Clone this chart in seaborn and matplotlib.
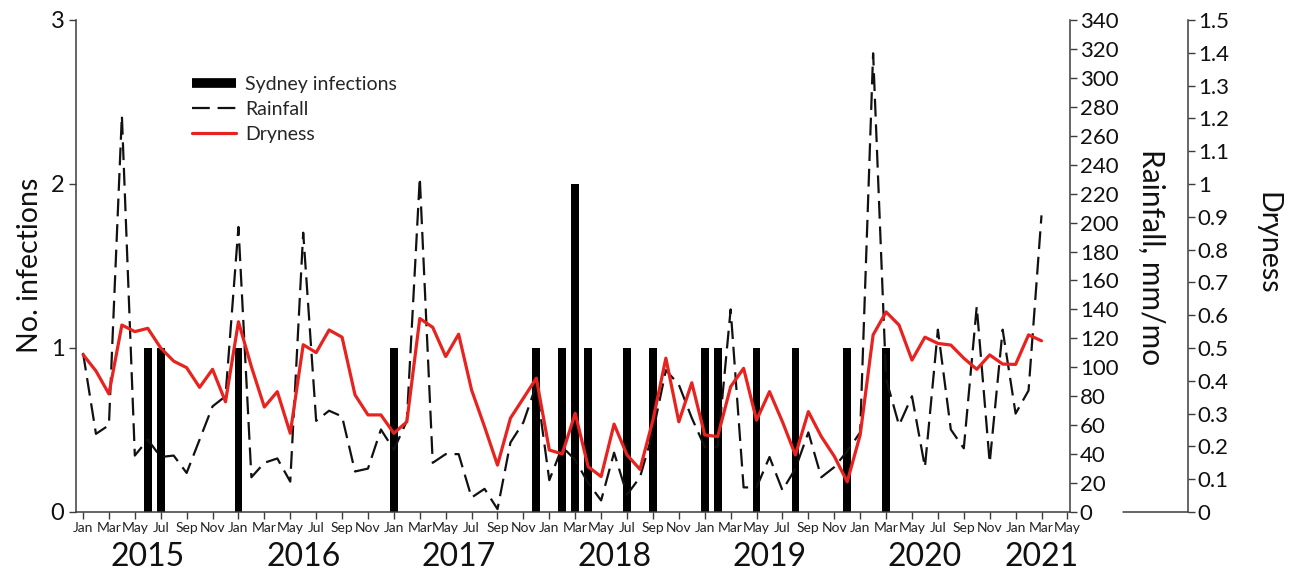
import numpy as np
import pandas as pd
import matplotlib
matplotlib.use("Agg")
import matplotlib.pyplot as plt
from matplotlib.lines import Line2D
from matplotlib.ticker import FuncFormatter, FixedLocator
import matplotlib.transforms as mtransforms
import seaborn as sns

# ---- data -------------------------------------------------------------
month_names = ["Jan", "Feb", "Mar", "Apr", "May", "Jun",
               "Jul", "Aug", "Sep", "Oct", "Nov", "Dec"]
years = ["2015", "2016", "2017", "2018", "2019", "2020", "2021"]

# monthly rainfall (mm/mo), Jan 2015 .. Mar 2021
rainfall = [110, 54, 60, 274, 39, 50, 38, 39, 27, 50, 73, 80,
            197, 24, 34, 37, 21, 193, 63, 70, 66, 28, 30, 57,
            43, 63, 231, 34, 40, 40, 10, 16, 2, 48, 62, 88,
            22, 45, 36, 20, 8, 41, 12, 24, 55, 98, 88, 65,
            45, 45, 140, 17, 17, 38, 15, 30, 55, 24, 31, 42,
            55, 317, 92, 60, 80, 31, 126, 57, 44, 142, 34, 126,
            68, 84, 205]

# monthly dryness index, Jan 2015 .. Mar 2021
dryness = [0.48, 0.43, 0.36, 0.57, 0.55, 0.56, 0.50, 0.46, 0.44, 0.38, 0.435, 0.336,
           0.58, 0.443, 0.32, 0.367, 0.24, 0.51, 0.486, 0.555, 0.533, 0.357, 0.296, 0.296,
           0.24, 0.275, 0.59, 0.563, 0.474, 0.542, 0.372, 0.26, 0.143, 0.286, 0.347, 0.408,
           0.189, 0.177, 0.301, 0.138, 0.108, 0.268, 0.174, 0.13, 0.28, 0.469, 0.275, 0.394,
           0.235, 0.23, 0.382, 0.438, 0.28, 0.367, 0.275, 0.174, 0.306, 0.23, 0.17, 0.092,
           0.235, 0.54, 0.61, 0.57, 0.463, 0.533, 0.514, 0.509, 0.469, 0.435, 0.479, 0.451,
           0.45, 0.54, 0.522]

# Sydney infections: month index (0 = Jan 2015) and number of cases
infection_month = [5, 6, 12, 24, 35, 37, 38, 39, 42, 44, 48, 49, 52, 55, 59, 62]
infection_count = [1, 1, 1, 1, 1, 1, 2, 1, 1, 1, 1, 1, 1, 1, 1, 1]

# axis runs Jan 2015 .. May 2021
n_axis_months = 77
year_label_month = [5, 17, 29, 41, 53, 65, 74]

df_clim = pd.DataFrame({"month": np.arange(len(rainfall)),
                        "rainfall": rainfall,
                        "dryness": dryness})
df_inf = pd.DataFrame({"month": infection_month, "count": infection_count})

# ---- style ------------------------------------------------------------
sns.set_theme(style="ticks")
plt.rcParams["font.family"] = ["Lato", "DejaVu Sans"]
axis_col = "#3c3c3c"
red = "#e8231f"
dash = (0, (8, 3.5))

W, H = 1293, 573
fig = plt.figure(figsize=(W / 100, H / 100), dpi=100)
x_left, x_right = 75.5, 1070
y_top, y_bot = 20, 512
ax = fig.add_axes([x_left / W, 1 - y_bot / H, (x_right - x_left) / W, (y_bot - y_top) / H])
ax2 = ax.twinx()
ax3 = ax.twinx()

# infections as bars
sns.barplot(data=df_inf, x="month", y="count", native_scale=True, width=0.6,
            color="black", saturation=1, linewidth=0, ax=ax)

# rainfall, dashed
sns.lineplot(data=df_clim, x="month", y="rainfall", ax=ax2, color="#111111",
             linewidth=1.6, linestyle=dash)

# dryness, red
sns.lineplot(data=df_clim, x="month", y="dryness", ax=ax3, color=red, linewidth=2.3)

# ---- axes -------------------------------------------------------------
xmin, xmax = -0.58, 76.2
for a in (ax, ax2, ax3):
    a.set_xlim(xmin, xmax)
    a.set_xlabel("")
    a.set_ylabel("")
    a.spines["top"].set_visible(False)
    a.grid(False)
    a.patch.set_visible(False)

ax.set_ylim(0, 3)
ax2.set_ylim(0, 340)
ax3.set_ylim(0, 1.5)

ax.spines["right"].set_visible(False)
for s in ("left", "bottom"):
    ax.spines[s].set_color(axis_col)
    ax.spines[s].set_linewidth(1.1)
for a in (ax2, ax3):
    a.spines["left"].set_visible(False)
    a.spines["bottom"].set_visible(False)
    a.spines["right"].set_color(axis_col)
    a.spines["right"].set_linewidth(1.1)

dry_spine_pos = (1188 - x_left) / (x_right - x_left)
ax3.spines["right"].set_position(("axes", dry_spine_pos))
# short base stub of the dryness axis
stub_start = (1123 - x_left) / (x_right - x_left)
ax3.plot([stub_start, dry_spine_pos], [0, 0], transform=ax3.transAxes,
         color=axis_col, lw=1.1, clip_on=False)

# x ticks every second month
tick_pos = np.arange(0, n_axis_months, 2)
ax.xaxis.set_major_locator(FixedLocator(tick_pos))
ax.set_xticklabels([month_names[p % 12] for p in tick_pos])
ax.tick_params(axis="x", direction="out", length=5, width=1, color=axis_col,
               labelsize=10, labelcolor="#222222", pad=2, bottom=True)

ax.set_yticks([0, 1, 2, 3])
ax.tick_params(axis="y", direction="out", length=5, width=1, color=axis_col,
               labelsize=17, labelcolor="#111111", pad=3, left=True)

ax2.set_yticks(np.arange(0, 341, 20))
ax2.tick_params(axis="y", direction="out", length=5, width=1, color=axis_col,
                labelsize=16, labelcolor="#111111", pad=2, right=True)

ax3.set_yticks(np.round(np.arange(0, 1.51, 0.1), 1))
ax3.yaxis.set_major_formatter(FuncFormatter(lambda v, p: f"{v:g}"))
ax3.tick_params(axis="y", direction="out", length=5, width=1, color=axis_col,
                labelsize=16, labelcolor="#111111", pad=2, right=True)

# year labels under the month ticks
trans = mtransforms.blended_transform_factory(ax.transData, ax.transAxes)
for yr, m in zip(years, year_label_month):
    ax.text(m, -0.0915, yr, transform=trans, ha="center", va="center",
            fontsize=23, color="#111111")

# axis titles
fig.text(30 / W, 1 - 265 / H, "No. infections", rotation=90, ha="center",
         va="center", fontsize=20.5, color="#111111")
fig.text(1151 / W, 1 - 257 / H, "Rainfall, mm/mo", rotation=270, ha="center",
         va="center", fontsize=21.5, color="#111111")
fig.text(1267 / W, 1 - 243 / H, "Dryness", rotation=270, ha="center",
         va="center", fontsize=20.5, color="#111111")

# legend
handles = [Line2D([], [], color="black", lw=7, solid_capstyle="butt"),
           Line2D([], [], color="#111111", lw=1.6, linestyle=dash),
           Line2D([], [], color=red, lw=2.3)]
labels = ["Sydney infections", "Rainfall", "Dryness"]
leg = ax3.legend(handles, labels, loc="upper left",
                 bbox_to_anchor=((191.7 - x_left) / (x_right - x_left), 0.887),
                 frameon=False, fontsize=14, handlelength=2.3, handletextpad=0.45,
                 labelspacing=0.42, borderpad=0, borderaxespad=0)

fig.savefig("out.png", dpi=100, facecolor="white")
